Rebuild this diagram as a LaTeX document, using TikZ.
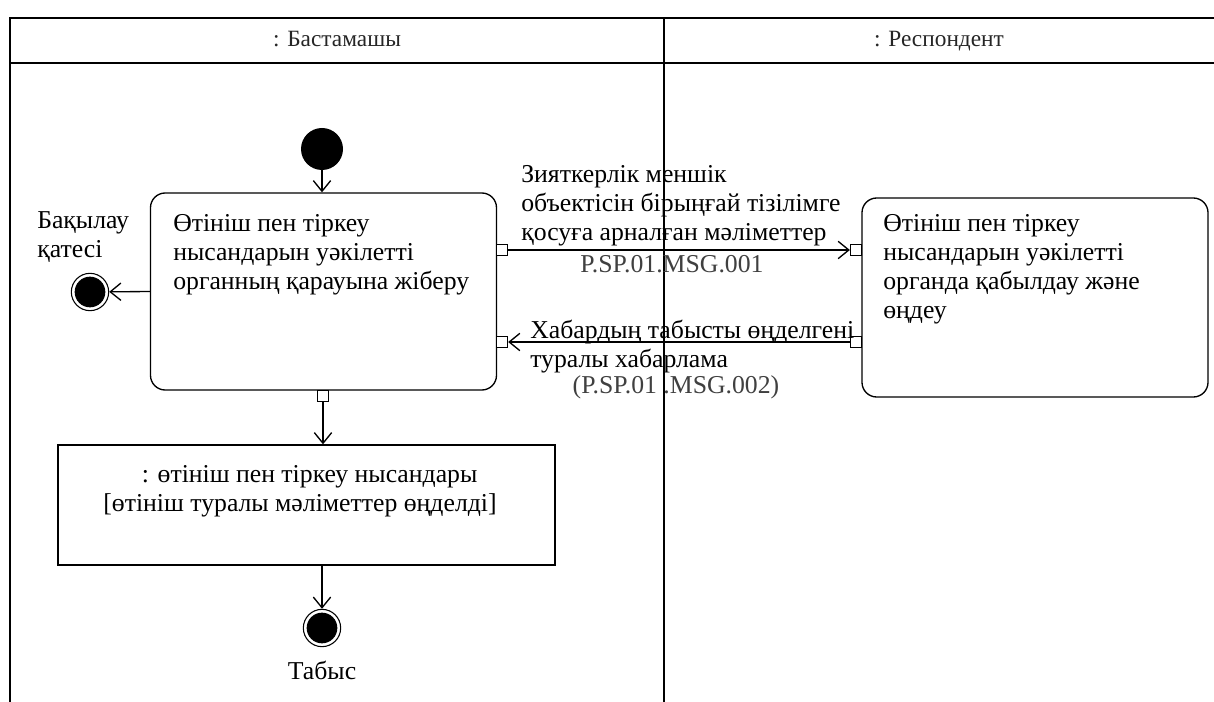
\documentclass[tikz,border=0pt]{standalone}
\usepackage{fontspec}
\setmainfont{Liberation Serif}
\usetikzlibrary{arrows.meta,positioning}

\tikzset{
  lane/.style={line width=1.2pt},
  action/.style={draw,rounded corners=11pt,line width=1pt,minimum width=259.5pt},
  objbox/.style={draw,line width=1pt,minimum width=372.75pt,minimum height=90pt},
  pin/.style={draw,fill=white,line width=0.7pt,minimum size=8.5pt,inner sep=0pt},
  flow/.style={line width=1pt,-{Straight Barb[length=8pt,width=13pt]}},
  txt/.style={align=left,font=\fontsize{19.3}{21.8}\selectfont,inner sep=0pt},
  msgid/.style={font=\fontsize{19.3}{21.8}\selectfont,text=black!75,inner sep=0pt},
  head/.style={font=\fontsize{17.5}{20}\selectfont,text=black!85,anchor=base},
  initnode/.style={circle,fill=black,minimum size=31.5pt,inner sep=0pt},
  finalnode/.style={circle,draw,line width=0.8pt,minimum size=28pt,inner sep=0pt,
    path picture={\fill (path picture bounding box.center) circle (11.5pt);}}
}

\begin{document}
\begin{tikzpicture}[x=0.75pt,y=-0.75pt]
    \useasboundingbox (0,0) rectangle (1214,702);

    % swimlanes
    \draw[lane] (10,702) -- (10,18) -- (1214,18);
    \draw[lane] (10,63) -- (1214,63);
    \draw[lane] (664,18) -- (664,702);
    \node[head] (laneA) at (337,47) {: Бастамашы};
    \node[head] (laneB) at (939,47) {: Респондент};

    % actions
    \node[initnode] (init) at (322,149) {};
    \node[action,minimum height=147.75pt] (actA) at (323.5,291.5) {};
    \node[txt,anchor=north west] (txtA) at (173,214)
        {Өтініш пен тіркеу\\нысандарын уәкілетті\\органның қарауына жіберу};
    \node[action,minimum height=149.25pt] (actB) at (1035,297.5) {};
    \node[txt,anchor=north west] (txtB) at (883,214)
        {Өтініш пен тіркеу\\нысандарын уәкілетті\\органда қабылдау және\\өңдеу};
    \node[objbox] (objC) at (306.5,505) {};
    \node[txt,align=center] (txtC) at (300,491)
        {\ \ \ : өтініш пен тіркеу нысандары\\{[}өтініш туралы мәліметтер өңделді{]}};

    % pins
    \node[pin] (pAout) at (502,250) {};
    \node[pin] (pAin) at (502,342) {};
    \node[pin] (pBin) at (856,250) {};
    \node[pin] (pBout) at (856,342) {};
    \node[pin] (pAdown) at (323,396) {};

    % final nodes
    \node[finalnode] (err) at (90,292) {};
    \node[txt,anchor=north west] (errlbl) at (37,211) {Бақылау\\қатесі};
    \node[finalnode] (done) at (322,628) {};
    \node[txt] (donelbl) at (322,670) {Табыс};

    % flows
    \draw[flow] (init) -- (init |- actA.north);
    \draw[flow] (actA.west) -- (err);
    \draw[flow] (pAout) -- (pBin);
    \draw[flow] (pBout) -- (pAin);
    \draw[flow] (pAdown) -- (pAdown |- objC.north);
    \draw[flow] (done |- objC.south) -- (done);

    % message labels
    \node[txt,anchor=north west] (msgA) at (521,165)
        {Зияткерлік меншік\\объектісін бірыңғай тізілімге\\қосуға арналған мәліметтер};
    \node[msgid] (idA) at (672,264) {P.SP.01.MSG.001};
    \node[txt,anchor=north west] (msgB) at (530,320)
        {Хабардың табысты өңделгені\\туралы хабарлама};
    \node[msgid] (idB) at (676,387) {(P.SP.01 .MSG.002)};
\end{tikzpicture}
\end{document}
